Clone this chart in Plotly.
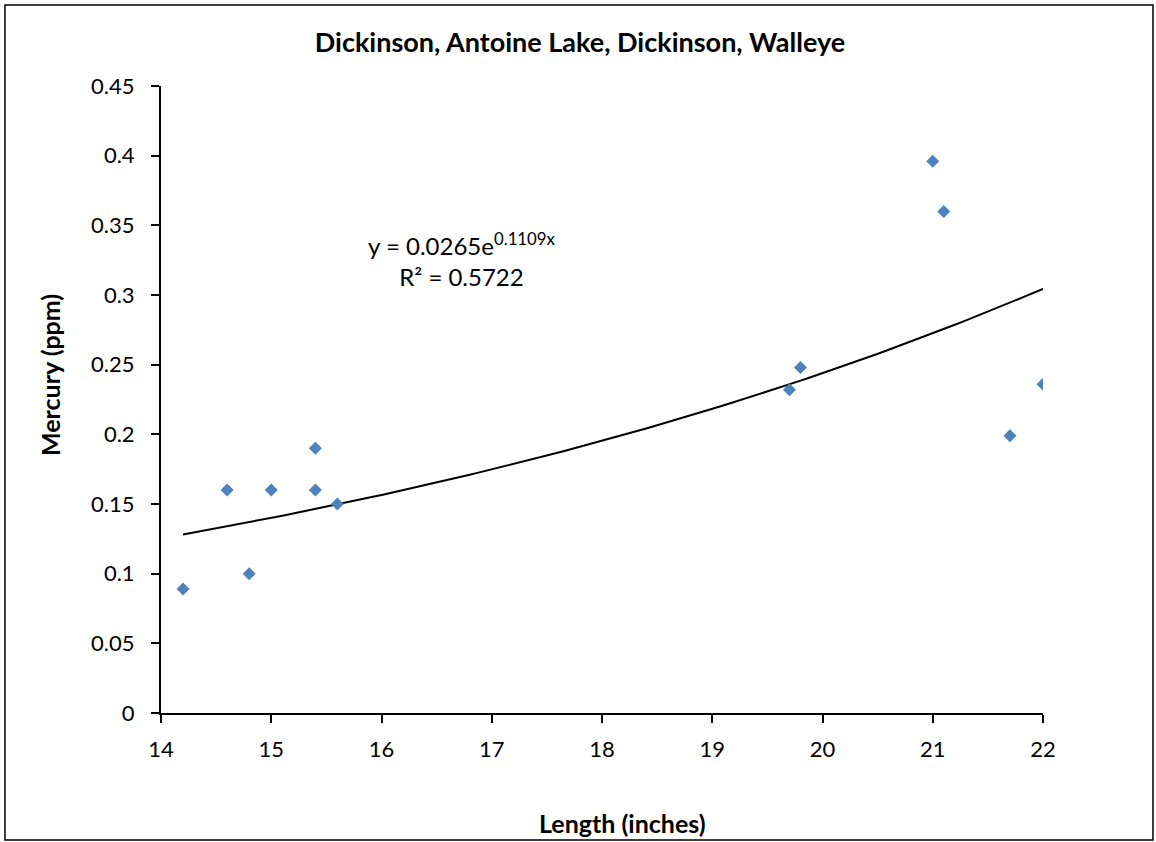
import numpy as np
import plotly.graph_objects as go

# 길이(inch)와 수은 농도(ppm)
length = [14.2, 14.6, 14.8, 15.0, 15.4, 15.4, 15.6, 19.7, 19.8, 21.0, 21.1, 21.7, 22.0]
mercury = [0.089, 0.16, 0.10, 0.16, 0.19, 0.16, 0.15, 0.232, 0.248, 0.396, 0.36, 0.199, 0.236]

x_ticks = [14, 15, 16, 17, 18, 19, 20, 21, 22]
y_ticks = [0, 0.05, 0.1, 0.15, 0.2, 0.25, 0.3, 0.35, 0.4, 0.45]
y_labels = ['0', '0.05', '0.1', '0.15', '0.2', '0.25', '0.3', '0.35', '0.4', '0.45']

# 지수 추세선 (log y 에 대한 선형 회귀)
b, ln_a = np.polyfit(length, np.log(mercury), 1)
tx = np.linspace(min(length), max(length), 100)
ty = np.exp(ln_a) * np.exp(b * tx)

font = 'Lato, Open Sans, sans-serif'

fig = go.Figure()
fig.add_trace(go.Scatter(x=tx, y=ty, mode='lines', line=dict(color='black', width=2),
                         hoverinfo='skip', showlegend=False))
fig.add_trace(go.Scatter(x=length, y=mercury, mode='markers',
                         marker=dict(symbol='diamond', size=10, color='#4F81BD'),
                         showlegend=False))

fig.add_annotation(x=16.73, y=0.3252, xref='x', yref='y', showarrow=False,
                   text='y = 0.0265e<sup>0.1109x</sup><br>R² = 0.5722',
                   font=dict(size=24, color='black', family=font), align='center')

# 축 제목 (엑셀처럼 위치를 직접 지정)
fig.add_annotation(x=0.5227, y=-0.1754, xref='paper', yref='paper', showarrow=False,
                   text='<b>Length (inches)</b>', font=dict(size=25, family=font),
                   xanchor='center', yanchor='middle')
fig.add_annotation(x=-0.1259, y=0.539, xref='paper', yref='paper', showarrow=False,
                   text='<b>Mercury (ppm)</b>', font=dict(size=25, family=font),
                   textangle=-90, xanchor='center', yanchor='middle')

# 차트 테두리
fig.add_shape(type='rect', xref='paper', yref='paper',
              x0=-0.1769, x1=1.1247, y0=-0.2026, y1=1.129,
              line=dict(color='black', width=1.5), layer='below')

fig.update_layout(
    width=1156, height=842,
    margin=dict(l=161, r=113, t=86, b=129),
    paper_bgcolor='white', plot_bgcolor='white',
    font=dict(family=font, size=22, color='black'),
    title=dict(text='<b>Dickinson, Antoine Lake, Dickinson, Walleye</b>',
               x=0.5017, xanchor='center', y=0.949, yanchor='middle',
               font=dict(size=27, family=font)),
)
fig.update_xaxes(range=[14, 22], tickvals=x_ticks, showline=True, linecolor='black',
                 linewidth=2, ticks='outside', ticklen=8, tickwidth=2, tickcolor='black',
                 showgrid=False, zeroline=False, ticklabelstandoff=8)
fig.update_yaxes(range=[0, 0.45], tickvals=y_ticks, ticktext=y_labels, showline=True,
                 linecolor='black', linewidth=2, ticks='outside', ticklen=8, tickwidth=2,
                 tickcolor='black', showgrid=False, zeroline=False, ticklabelstandoff=12)

fig.write_html('out.html', config={'displayModeBar': False},
               post_script="document.body.style.margin='0';")
